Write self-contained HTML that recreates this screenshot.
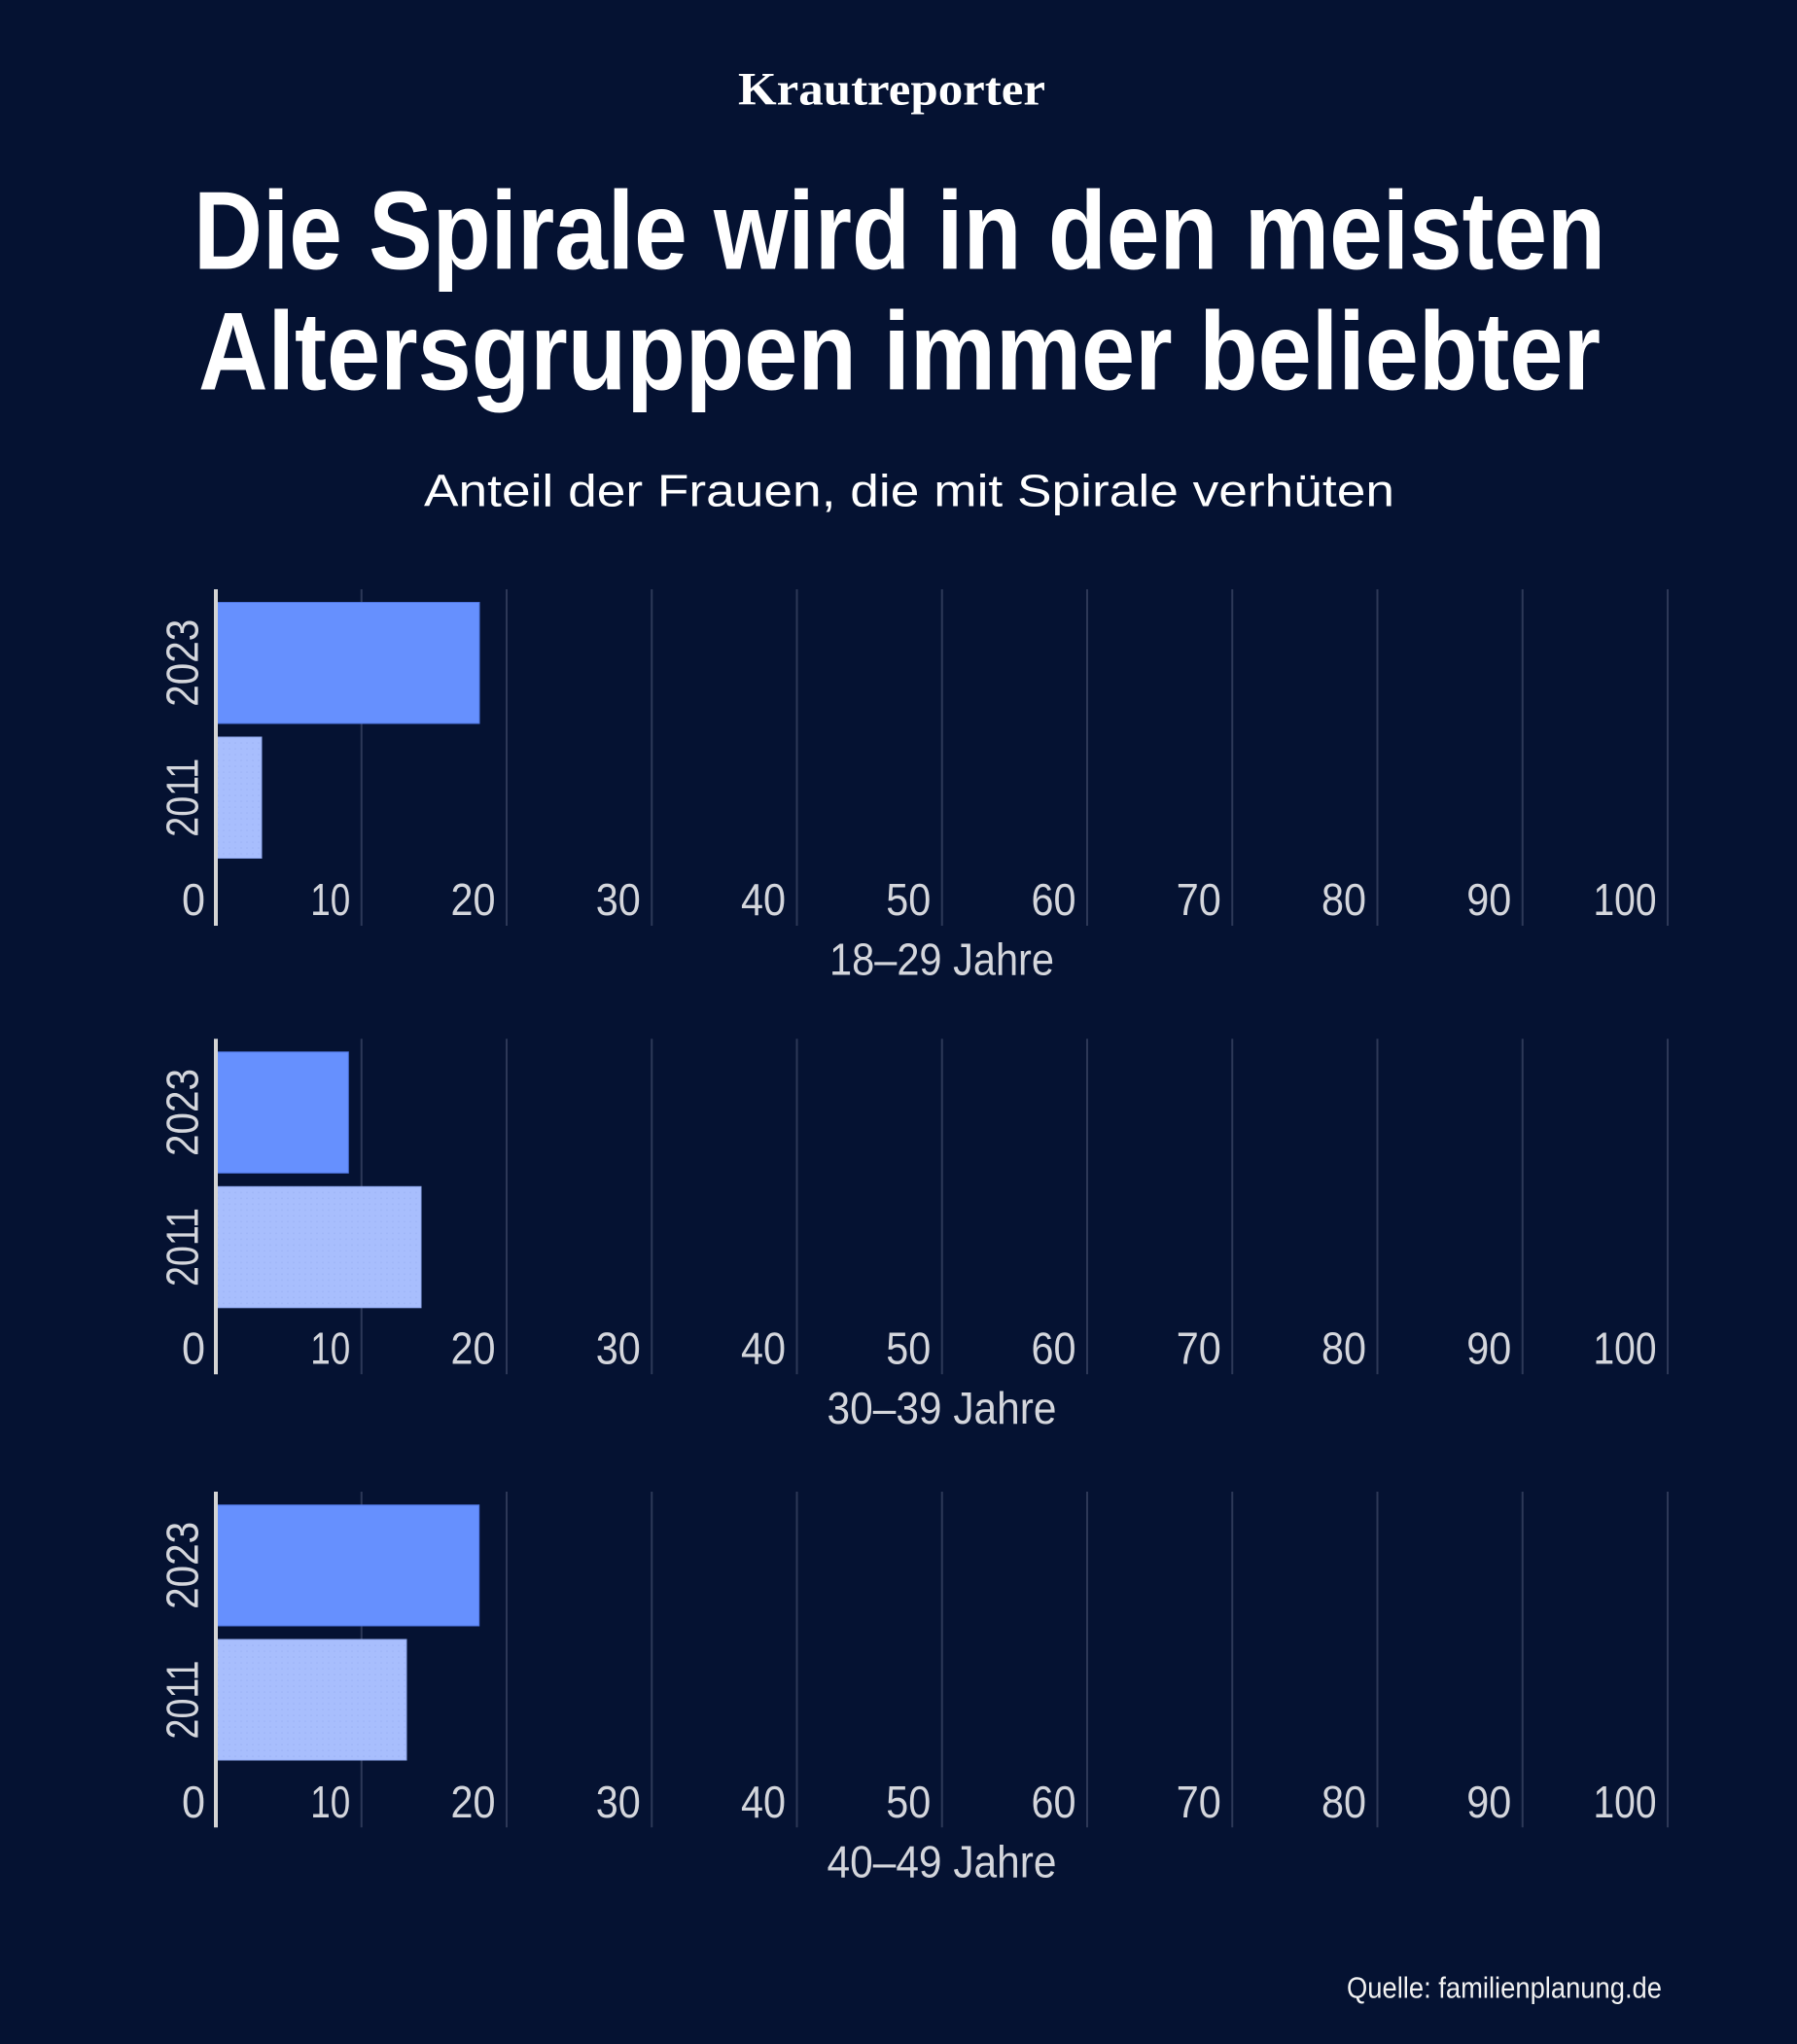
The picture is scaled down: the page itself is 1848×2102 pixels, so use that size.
<!DOCTYPE html>
<html lang="de">
<head>
<meta charset="utf-8">
<title>Die Spirale wird in den meisten Altersgruppen immer beliebter</title>
<style>
  html, body { margin: 0; padding: 0; background: #051232; }
  body { width: 1848px; height: 2102px; overflow: hidden; }
  svg { display: block; }
  .tick { font-family: "Liberation Sans", sans-serif; font-size: 46px; fill: #d4d6dc; }
  .age { font-family: "Liberation Sans", sans-serif; font-size: 46px; fill: #d4d6dc; }
</style>
</head>
<body>
<svg width="1848" height="2102" viewBox="0 0 1848 2102" xmlns="http://www.w3.org/2000/svg">
  <defs>
    <pattern id="dots" width="6" height="6" patternUnits="userSpaceOnUse">
      <rect width="6" height="6" fill="#a8befd"/>
      <circle cx="2" cy="2" r="0.8" fill="#9cb3f6"/>
    </pattern>
  </defs>
  <rect width="1848" height="2102" fill="#051232"/>

  <!-- Logo -->
  <text x="759" y="107.3" font-family="'Liberation Serif', serif" font-weight="bold" font-size="48" fill="#ffffff" textLength="316" lengthAdjust="spacingAndGlyphs">Krautreporter</text>

  <!-- Title -->
  <text x="199" y="276.7" font-family="'Liberation Sans', sans-serif" font-weight="bold" font-size="114" fill="#ffffff" textLength="1452" lengthAdjust="spacingAndGlyphs">Die Spirale wird in den meisten</text>
  <text x="204" y="400.7" font-family="'Liberation Sans', sans-serif" font-weight="bold" font-size="114" fill="#ffffff" textLength="1442" lengthAdjust="spacingAndGlyphs">Altersgruppen immer beliebter</text>

  <!-- Subtitle -->
  <text x="436" y="520.5" font-family="'Liberation Sans', sans-serif" font-size="46" fill="#ffffff" textLength="998" lengthAdjust="spacingAndGlyphs">Anteil der Frauen, die mit Spirale verhüten</text>

  <!-- Chart 1: 18–29 -->
  <g transform="translate(0,606)">
    <g stroke="#2d3857" stroke-width="2">
      <line x1="371.75" y1="0" x2="371.75" y2="346"/>
      <line x1="521" y1="0" x2="521" y2="346"/>
      <line x1="670.25" y1="0" x2="670.25" y2="346"/>
      <line x1="819.5" y1="0" x2="819.5" y2="346"/>
      <line x1="968.75" y1="0" x2="968.75" y2="346"/>
      <line x1="1118" y1="0" x2="1118" y2="346"/>
      <line x1="1267.25" y1="0" x2="1267.25" y2="346"/>
      <line x1="1416.5" y1="0" x2="1416.5" y2="346"/>
      <line x1="1565.75" y1="0" x2="1565.75" y2="346"/>
      <line x1="1715" y1="0" x2="1715" y2="346"/>
    </g>
    <rect x="222" y="13.5" width="271" height="124.5" fill="#6690fe" stroke="#4f76e0" stroke-width="1"/>
    <rect x="222" y="152" width="47" height="124.5" fill="url(#dots)" stroke="#8fa8ee" stroke-width="1"/>
    <rect x="220" y="0" width="4" height="346" fill="#d4d4d4"/>
    <text transform="translate(203.5,75.75) rotate(-90)" x="-45" y="0" class="tick" textLength="90" lengthAdjust="spacingAndGlyphs">2023</text>
    <text transform="translate(203.5,214.25) rotate(-90)" x="-40.5" y="0" class="tick" textLength="81" lengthAdjust="spacingAndGlyphs">2011</text>
    <g class="tick">
      <text x="187" y="335" textLength="24" lengthAdjust="spacingAndGlyphs">0</text>
      <text x="319.25" y="335" textLength="41" lengthAdjust="spacingAndGlyphs">10</text>
      <text x="463.5" y="335" textLength="46" lengthAdjust="spacingAndGlyphs">20</text>
      <text x="612.75" y="335" textLength="46" lengthAdjust="spacingAndGlyphs">30</text>
      <text x="762" y="335" textLength="46" lengthAdjust="spacingAndGlyphs">40</text>
      <text x="911.25" y="335" textLength="46" lengthAdjust="spacingAndGlyphs">50</text>
      <text x="1060.5" y="335" textLength="46" lengthAdjust="spacingAndGlyphs">60</text>
      <text x="1209.75" y="335" textLength="46" lengthAdjust="spacingAndGlyphs">70</text>
      <text x="1359" y="335" textLength="46" lengthAdjust="spacingAndGlyphs">80</text>
      <text x="1508.25" y="335" textLength="46" lengthAdjust="spacingAndGlyphs">90</text>
      <text x="1638.5" y="335" textLength="65" lengthAdjust="spacingAndGlyphs">100</text>
    </g>
    <text x="968.5" y="396.3" class="age" text-anchor="middle" textLength="231" lengthAdjust="spacingAndGlyphs">18–29 Jahre</text>
  </g>

  <!-- Chart 2: 30–39 -->
  <g transform="translate(0,1068.3)">
    <g stroke="#2d3857" stroke-width="2">
      <line x1="371.75" y1="0" x2="371.75" y2="345"/>
      <line x1="521" y1="0" x2="521" y2="345"/>
      <line x1="670.25" y1="0" x2="670.25" y2="345"/>
      <line x1="819.5" y1="0" x2="819.5" y2="345"/>
      <line x1="968.75" y1="0" x2="968.75" y2="345"/>
      <line x1="1118" y1="0" x2="1118" y2="345"/>
      <line x1="1267.25" y1="0" x2="1267.25" y2="345"/>
      <line x1="1416.5" y1="0" x2="1416.5" y2="345"/>
      <line x1="1565.75" y1="0" x2="1565.75" y2="345"/>
      <line x1="1715" y1="0" x2="1715" y2="345"/>
    </g>
    <rect x="222" y="13.5" width="136.3" height="124.5" fill="#6690fe" stroke="#4f76e0" stroke-width="1"/>
    <rect x="222" y="152" width="211" height="124.5" fill="url(#dots)" stroke="#8fa8ee" stroke-width="1"/>
    <rect x="220" y="0" width="4" height="345" fill="#d4d4d4"/>
    <text transform="translate(203.5,75.75) rotate(-90)" x="-45" y="0" class="tick" textLength="90" lengthAdjust="spacingAndGlyphs">2023</text>
    <text transform="translate(203.5,214.25) rotate(-90)" x="-40.5" y="0" class="tick" textLength="81" lengthAdjust="spacingAndGlyphs">2011</text>
    <g class="tick">
      <text x="187" y="334.4" textLength="24" lengthAdjust="spacingAndGlyphs">0</text>
      <text x="319.25" y="334.4" textLength="41" lengthAdjust="spacingAndGlyphs">10</text>
      <text x="463.5" y="334.4" textLength="46" lengthAdjust="spacingAndGlyphs">20</text>
      <text x="612.75" y="334.4" textLength="46" lengthAdjust="spacingAndGlyphs">30</text>
      <text x="762" y="334.4" textLength="46" lengthAdjust="spacingAndGlyphs">40</text>
      <text x="911.25" y="334.4" textLength="46" lengthAdjust="spacingAndGlyphs">50</text>
      <text x="1060.5" y="334.4" textLength="46" lengthAdjust="spacingAndGlyphs">60</text>
      <text x="1209.75" y="334.4" textLength="46" lengthAdjust="spacingAndGlyphs">70</text>
      <text x="1359" y="334.4" textLength="46" lengthAdjust="spacingAndGlyphs">80</text>
      <text x="1508.25" y="334.4" textLength="46" lengthAdjust="spacingAndGlyphs">90</text>
      <text x="1638.5" y="334.4" textLength="65" lengthAdjust="spacingAndGlyphs">100</text>
    </g>
    <text x="968.5" y="395.7" class="age" text-anchor="middle" textLength="236" lengthAdjust="spacingAndGlyphs">30–39 Jahre</text>
  </g>

  <!-- Chart 3: 40–49 -->
  <g transform="translate(0,1534)">
    <g stroke="#2d3857" stroke-width="2">
      <line x1="371.75" y1="0" x2="371.75" y2="345.3"/>
      <line x1="521" y1="0" x2="521" y2="345.3"/>
      <line x1="670.25" y1="0" x2="670.25" y2="345.3"/>
      <line x1="819.5" y1="0" x2="819.5" y2="345.3"/>
      <line x1="968.75" y1="0" x2="968.75" y2="345.3"/>
      <line x1="1118" y1="0" x2="1118" y2="345.3"/>
      <line x1="1267.25" y1="0" x2="1267.25" y2="345.3"/>
      <line x1="1416.5" y1="0" x2="1416.5" y2="345.3"/>
      <line x1="1565.75" y1="0" x2="1565.75" y2="345.3"/>
      <line x1="1715" y1="0" x2="1715" y2="345.3"/>
    </g>
    <rect x="222" y="13.7" width="270.7" height="124.3" fill="#6690fe" stroke="#4f76e0" stroke-width="1"/>
    <rect x="222" y="152" width="196" height="124" fill="url(#dots)" stroke="#8fa8ee" stroke-width="1"/>
    <rect x="220" y="0" width="4" height="345.3" fill="#d4d4d4"/>
    <text transform="translate(203.5,75.85) rotate(-90)" x="-45" y="0" class="tick" textLength="90" lengthAdjust="spacingAndGlyphs">2023</text>
    <text transform="translate(203.5,214) rotate(-90)" x="-40.5" y="0" class="tick" textLength="81" lengthAdjust="spacingAndGlyphs">2011</text>
    <g class="tick">
      <text x="187" y="335" textLength="24" lengthAdjust="spacingAndGlyphs">0</text>
      <text x="319.25" y="335" textLength="41" lengthAdjust="spacingAndGlyphs">10</text>
      <text x="463.5" y="335" textLength="46" lengthAdjust="spacingAndGlyphs">20</text>
      <text x="612.75" y="335" textLength="46" lengthAdjust="spacingAndGlyphs">30</text>
      <text x="762" y="335" textLength="46" lengthAdjust="spacingAndGlyphs">40</text>
      <text x="911.25" y="335" textLength="46" lengthAdjust="spacingAndGlyphs">50</text>
      <text x="1060.5" y="335" textLength="46" lengthAdjust="spacingAndGlyphs">60</text>
      <text x="1209.75" y="335" textLength="46" lengthAdjust="spacingAndGlyphs">70</text>
      <text x="1359" y="335" textLength="46" lengthAdjust="spacingAndGlyphs">80</text>
      <text x="1508.25" y="335" textLength="46" lengthAdjust="spacingAndGlyphs">90</text>
      <text x="1638.5" y="335" textLength="65" lengthAdjust="spacingAndGlyphs">100</text>
    </g>
    <text x="968.5" y="396.7" class="age" text-anchor="middle" textLength="236" lengthAdjust="spacingAndGlyphs">40–49 Jahre</text>
  </g>

  <!-- Source -->
  <text x="1385" y="2054.3" font-family="'Liberation Sans', sans-serif" font-size="31" fill="#f2f2f2" textLength="324" lengthAdjust="spacingAndGlyphs">Quelle: familienplanung.de</text>
</svg>
</body>
</html>
